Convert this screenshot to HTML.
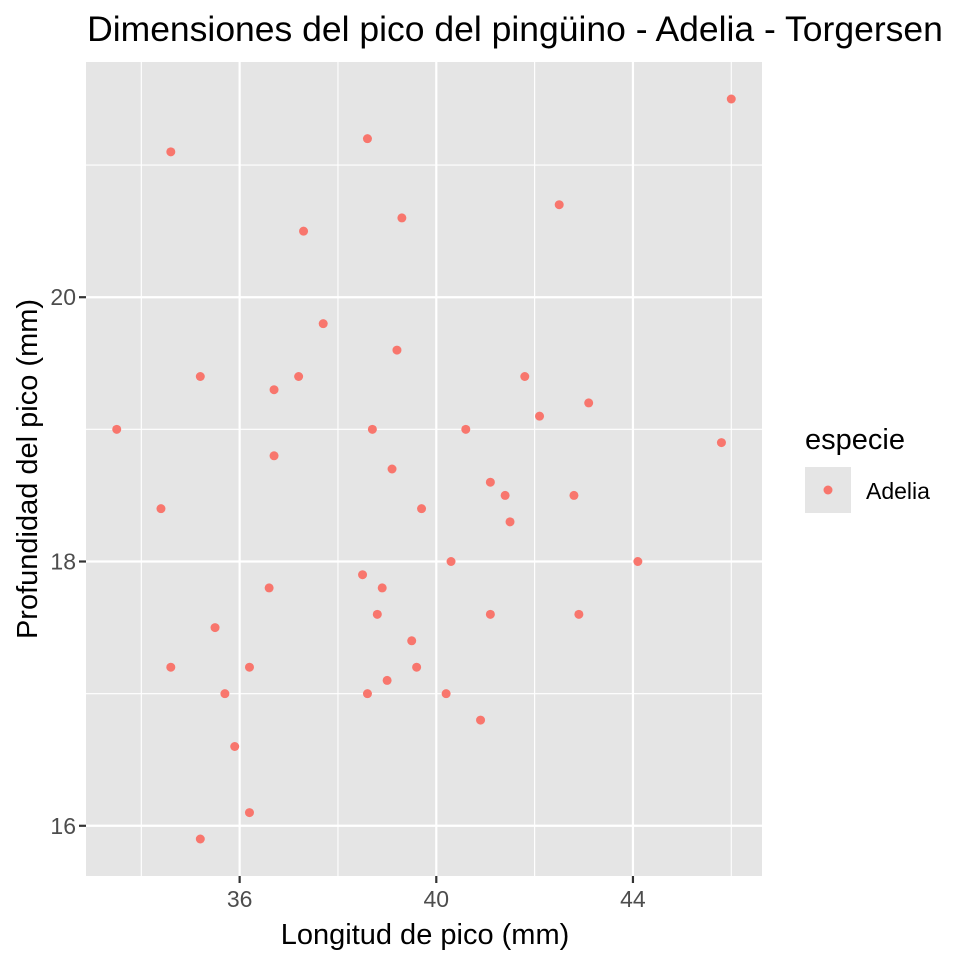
<!DOCTYPE html>
<html><head><meta charset="utf-8"><style>
body{margin:0;background:#fff;}
svg{font-family:"Liberation Sans",sans-serif;}
</style></head><body>
<svg id="chart" width="960" height="960" xmlns="http://www.w3.org/2000/svg">
<text x="515" y="41" font-size="35.5" text-anchor="middle">Dimensiones del pico del pingüino - Adelia - Torgersen</text>
<rect x="86" y="62" width="676" height="814" fill="#e5e5e5"/>
<g id="grid"></g>
<g id="points"></g>
<g id="axes"></g>
<text x="425" y="944" font-size="29" text-anchor="middle">Longitud de pico (mm)</text>
<text transform="translate(37,469) rotate(-90)" font-size="29" text-anchor="middle">Profundidad del pico (mm)</text>
<text x="805" y="449" font-size="29">especie</text>
<rect x="805" y="467" width="46" height="46" fill="#e5e5e5"/>
<circle cx="828" cy="490" r="4.5" fill="#f8766d"/>
<text x="866" y="499" font-size="23">Adelia</text>
</svg>
<script>
const billLength=[46.0,34.6,38.6,37.3,39.3,42.5,37.7,39.2,35.2,36.7,37.2,41.8,43.1,42.1,33.5,38.7,40.6,45.8,36.7,39.1,41.1,41.4,42.8,34.4,39.7,41.5,40.3,44.1,38.5,36.6,38.9,38.8,41.1,42.9,35.5,39.5,34.6,36.2,39.6,39.0,35.7,38.6,40.2,40.9,35.9,36.2,35.2];
const billDepth=[21.5,21.1,21.2,20.5,20.6,20.7,19.8,19.6,19.4,19.3,19.4,19.4,19.2,19.1,19.0,19.0,19.0,18.9,18.8,18.7,18.6,18.5,18.5,18.4,18.4,18.3,18.0,18.0,17.9,17.8,17.8,17.6,17.6,17.6,17.5,17.4,17.2,17.2,17.2,17.1,17.0,17.0,17.0,16.8,16.6,16.1,15.9];
const xMajor=[36,40,44];
const xMinor=[34,38,42,46];
const yMajor=[16,18,20];
const yMinor=[17,19,21];
const X0=86,X1=762,Y0=62,Y1=876;
const xMin=32.875,xMax=46.625,yMin=15.62,yMax=21.78;
const sx=v=>X0+(v-xMin)/(xMax-xMin)*(X1-X0);
const sy=v=>Y1-(v-yMin)/(yMax-yMin)*(Y1-Y0);
const NS="http://www.w3.org/2000/svg";
function mk(p,t,a){const e=document.createElementNS(NS,t);for(const k in a)e.setAttribute(k,a[k]);p.appendChild(e);return e;}
const grid=document.getElementById('grid'),axes=document.getElementById('axes'),pts=document.getElementById('points');
xMinor.forEach(v=>{const l=mk(grid,'line',{x1:sx(v),x2:sx(v),y1:Y0,y2:Y1,stroke:'#fff','stroke-width':1.1});

});
yMinor.forEach(v=>{const l=mk(grid,'line',{x1:X0,x2:X1,y1:sy(v),y2:sy(v),stroke:'#fff','stroke-width':1.1});

});
xMajor.forEach(v=>{const l=mk(grid,'line',{x1:sx(v),x2:sx(v),y1:Y0,y2:Y1,stroke:'#fff','stroke-width':2.2});


const t=mk(axes,'line',{x1:sx(v),x2:sx(v),y1:Y1,y2:Y1+7,stroke:'#333','stroke-width':2.2});


const tx=mk(axes,'text',{x:sx(v),y:Y1+31,'font-size':23,fill:'#4d4d4d','text-anchor':'middle'});tx.textContent=v;

});
yMajor.forEach(v=>{const l=mk(grid,'line',{x1:X0,x2:X1,y1:sy(v),y2:sy(v),stroke:'#fff','stroke-width':2.2});


const t=mk(axes,'line',{x1:X0-7,x2:X0,y1:sy(v),y2:sy(v),stroke:'#333','stroke-width':2.2});


const tx=mk(axes,'text',{x:X0-10,y:sy(v)+8,'font-size':23,fill:'#4d4d4d','text-anchor':'end'});tx.textContent=v;

});
billLength.forEach((v,i)=>{const c=mk(pts,'circle',{cx:sx(v),cy:sy(billDepth[i]),r:4.5,fill:'#f8766d'});

});
</script>
</body></html>
